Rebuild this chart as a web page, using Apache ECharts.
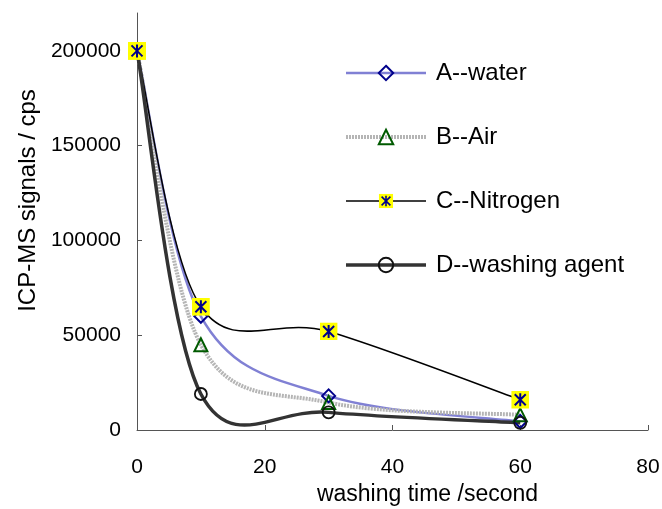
<!DOCTYPE html>
<html>
<head>
<meta charset="utf-8">
<script src="https://cdn.jsdelivr.net/npm/echarts@6/dist/echarts.min.js"></script>
<style>
html,body{margin:0;padding:0;background:#fff;}
#chart{width:662px;height:509px;}
</style>
</head>
<body>
<div id="chart"></div>
<script>
const times = [0, 10, 30, 60];
const seriesNames = ['A--water', 'B--Air', 'C--Nitrogen', 'D--washing agent'];
const waterValues = [200000, 60000, 18000, 4500];
const airValues = [200000, 45000, 14500, 8000];
const nitrogenValues = [200000, 65000, 52000, 16000];
const agentValues = [200000, 19000, 9300, 3800];
const xTicks = [0, 20, 40, 60, 80];
const yTicks = [0, 50000, 100000, 150000, 200000];

const starSquare = 'image://data:image/svg+xml;utf8,' + encodeURIComponent(
  "<svg xmlns='http://www.w3.org/2000/svg' width='36' height='36' viewBox='0 0 18 18'>" +
  "<rect width='18' height='18' fill='#ffff00'/>" +
  "<path d='M3.5 3.5L14.5 14.5M3.5 14.5L14.5 3.5M9 2.5V15.5' stroke='#00008b' stroke-width='2' fill='none'/></svg>");

function pairs(vals) { return times.map((t, i) => [t, vals[i]]); }

const styles = {
  'A--water': {color: '#8080d4', width: 2.5, type: 'solid'},
  'B--Air': {color: '#b5b5b5', width: 4, type: [2, 1]},
  'C--Nitrogen': {color: '#000', width: 1.5, type: 'solid'},
  'D--washing agent': {color: '#333', width: 3.5, type: 'solid'}
};
const valuesByName = {
  'A--water': waterValues, 'B--Air': airValues,
  'C--Nitrogen': nitrogenValues, 'D--washing agent': agentValues
};

// Smoothed curve (Catmull-Rom style, like a spreadsheet "smoothed line") through points mapped by the axes
function curveSeries(name, z) {
  const st = styles[name];
  return {
    type: 'custom', coordinateSystem: 'cartesian2d', silent: true, z: z,
    data: [[times[0], valuesByName[name][0]]],
    renderItem: function (params, api) {
      const vals = valuesByName[name];
      const p = times.map((t, i) => api.coord([t, vals[i]]));
      let d = 'M' + p[0][0] + ' ' + p[0][1];
      for (let i = 0; i < p.length - 1; i++) {
        const p0 = p[Math.max(i - 1, 0)], p1 = p[i], p2 = p[i + 1], p3 = p[Math.min(i + 2, p.length - 1)];
        const c1 = [p1[0] + (p2[0] - p0[0]) / 6, p1[1] + (p2[1] - p0[1]) / 6];
        const c2 = [p2[0] - (p3[0] - p1[0]) / 6, p2[1] - (p3[1] - p1[1]) / 6];
        d += ' C' + c1[0] + ' ' + c1[1] + ' ' + c2[0] + ' ' + c2[1] + ' ' + p2[0] + ' ' + p2[1];
      }
      return {
        type: 'path',
        shape: {pathData: d},
        style: {fill: 'none', stroke: st.color, lineWidth: st.width,
          lineDash: Array.isArray(st.type) ? st.type : null, lineJoin: 'round'}
      };
    }
  };
}

function legendItem(name) {
  const st = styles[name];
  return {name: name, lineStyle: {color: st.color, width: st.width, type: st.type, opacity: 1}};
}

const chart = echarts.init(document.getElementById('chart'), null, {renderer: 'canvas'});
const fontFam = 'Liberation Sans, Arial, sans-serif';
chart.setOption({
  animation: false,
  backgroundColor: '#fff',
  grid: {left: 137, right: 14, top: 13, bottom: 79, outerBoundsMode: 'none'},
  legend: {
    orient: 'vertical',
    left: 344,
    top: 61,
    padding: 0,
    itemWidth: 80,
    itemHeight: 18,
    itemGap: 40,
    data: seriesNames.map(legendItem),
    textStyle: {fontFamily: fontFam, fontSize: 24, color: '#000', lineHeight: 24, padding: [0, 0, 0, 5]}
  },
  xAxis: {
    type: 'value', min: 0, max: 80, interval: 20,
    name: 'washing time /second', nameLocation: 'middle', nameGap: 51,
    nameTextStyle: {fontFamily: fontFam, fontSize: 23, color: '#000', padding: [0, 0, 0, 70]},
    axisLine: {show: true, lineStyle: {color: '#555', width: 1}},
    axisTick: {show: true, inside: true, length: 5, lineStyle: {color: '#555'}},
    axisLabel: {fontFamily: fontFam, fontSize: 21, color: '#000', margin: 27, customValues: xTicks},
    splitLine: {show: false}
  },
  yAxis: {
    type: 'value', min: 0, max: 220000, interval: 50000,
    name: 'ICP-MS signals / cps', nameLocation: 'middle', nameGap: 97,
    nameTextStyle: {fontFamily: fontFam, fontSize: 24, color: '#000', padding: [0, 0, 0, 42]},
    axisLine: {show: true, lineStyle: {color: '#555', width: 1}},
    axisTick: {show: true, inside: true, length: 5, lineStyle: {color: '#555'}, customValues: yTicks},
    axisLabel: {fontFamily: fontFam, fontSize: 21, color: '#000', margin: 16, padding: [12, 0, 0, 0],
      customValues: yTicks, formatter: v => String(v)},
    splitLine: {show: false}
  },
  series: [
    curveSeries('A--water', 2),
    curveSeries('B--Air', 3),
    curveSeries('C--Nitrogen', 4),
    curveSeries('D--washing agent', 4.5),
    {
      name: seriesNames[0], type: 'line', data: pairs(waterValues),
      lineStyle: {color: styles['A--water'].color, width: 2.5, opacity: 0},
      symbol: 'diamond', symbolSize: 13,
      itemStyle: {color: 'rgba(255,255,255,0)', borderColor: '#00008b', borderWidth: 2},
      z: 6
    },
    {
      name: seriesNames[1], type: 'line', data: pairs(airValues),
      lineStyle: {color: styles['B--Air'].color, width: 4, opacity: 0},
      symbol: 'triangle', symbolSize: 13,
      itemStyle: {color: 'rgba(255,255,255,0)', borderColor: '#005a00', borderWidth: 2},
      z: 7
    },
    {
      name: seriesNames[3], type: 'line', data: pairs(agentValues),
      lineStyle: {color: styles['D--washing agent'].color, width: 3.5, opacity: 0},
      symbol: 'circle', symbolSize: 12,
      itemStyle: {color: 'rgba(255,255,255,0)', borderColor: '#111', borderWidth: 1.8},
      z: 8
    },
    {
      name: seriesNames[2], type: 'line', data: pairs(nitrogenValues),
      lineStyle: {color: '#000', width: 1.5, opacity: 0},
      symbol: starSquare, symbolSize: 18,
      itemStyle: {color: '#ffff00'},
      z: 9
    }
  ]
});
</script>
</body>
</html>
